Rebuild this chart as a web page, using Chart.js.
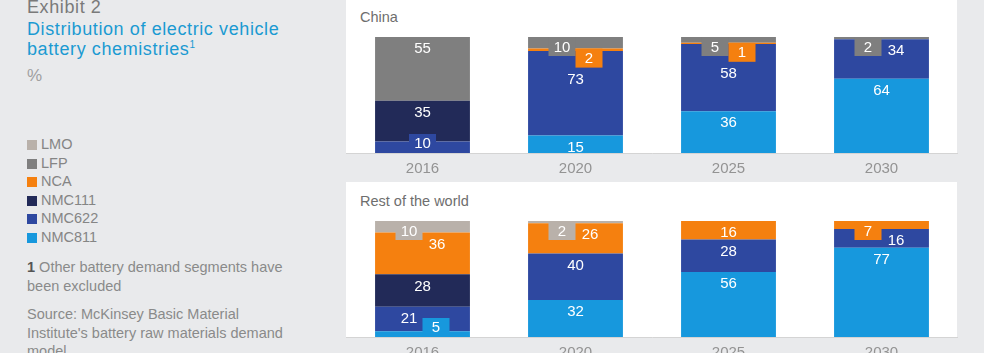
<!DOCTYPE html>
<html>
<head>
<meta charset="utf-8">
<script src="https://cdn.jsdelivr.net/npm/chart.js"></script>
<style>
  html, body { margin: 0; padding: 0; }
  body {
    width: 984px; height: 353px; overflow: hidden; position: relative;
    background: #e9eaec; font-family: "Liberation Sans", Arial, sans-serif;
  }
  .abs { position: absolute; white-space: nowrap; }
  .title { left: 27px; font-size: 18px; line-height: 20px; letter-spacing: 0.6px; }
  .legend { left: 27px; top: 135px; font-size: 14.5px; line-height: 18.6px; color: #858585; }
  .legend div { height: 18.6px; }
  .legend span { display: inline-block; width: 10px; height: 10px; margin-right: 4px; vertical-align: -1px; }
  .note { left: 27px; font-size: 14.5px; line-height: 18.7px; color: #8a8a8a; }
  .panel { position: absolute; left: 346px; width: 611px; background: #fff; }
  .ptitle { left: 360px; font-size: 14.5px; color: #6e6e6e; }
  canvas { position: absolute; }
</style>
</head>
<body>
  <div class="abs title" style="top:-3px;color:#7a7a7a;">Exhibit 2</div>
  <div class="abs title" style="top:19px;color:#1b9ad2;">Distribution of electric vehicle<br>battery chemistries<sup style="font-size:10px;vertical-align:7px;line-height:0;">1</sup></div>
  <div class="abs" style="left:27px;top:66px;font-size:17px;line-height:20px;color:#a0a0a0;">%</div>

  <div class="abs legend" id="leyenda"></div>

  <div class="abs note" style="top:258px;"><b style="color:#555;font-weight:bold;">1</b> Other battery demand segments have<br>been excluded</div>
  <div class="abs note" style="top:305px;">Source: McKinsey Basic Material<br>Institute's battery raw materials demand<br>model</div>

  <div class="panel" style="top:0;height:153px;"></div>
  <div class="panel" style="top:182px;height:155px;"></div>
  <div class="abs ptitle" style="top:9px;">China</div>
  <div class="abs ptitle" style="top:193px;">Rest of the world</div>

  <canvas id="graficaChina" width="613" height="180" style="left:345px;top:0;"></canvas>
  <canvas id="graficaResto" width="613" height="182" style="left:345px;top:182px;"></canvas>

<script>
// Years and chemistries
const years = ['2016', '2020', '2025', '2030'];
const chemistries = ['LMO', 'LFP', 'NCA', 'NMC111', 'NMC622', 'NMC811'];

// China shares, %
const chinaLMO = [0, 0, 0, 0];
const chinaLFP = [55, 10, 5, 2];
const chinaNCA = [0, 2, 1, 0];
const chinaNMC111 = [35, 0, 0, 0];
const chinaNMC622 = [10, 73, 58, 34];
const chinaNMC811 = [0, 15, 36, 64];

// Rest of the world shares, %
const restoLMO = [10, 2, 0, 0];
const restoLFP = [0, 0, 0, 0];
const restoNCA = [36, 26, 16, 7];
const restoNMC111 = [28, 0, 0, 0];
const restoNMC622 = [21, 40, 28, 16];
const restoNMC811 = [5, 32, 56, 77];

const colores = {
    LMO: '#b9b1aa',
    LFP: '#7f7f7f',
    NCA: '#f5800f',
    NMC111: '#222a58',
    NMC622: '#2e48a0',
    NMC811: '#1798dd'
};

// Legend on the left
const leyenda = document.getElementById('leyenda');
chemistries.forEach(c => {
    const fila = document.createElement('div');
    fila.innerHTML = `<span style="background:${colores[c]}"></span>${c}`;
    leyenda.appendChild(fila);
});

// Segment labels: small shares get a coloured tab like in the original
const BOX_W = 27, BOX_H = 19;
const etiquetasPlugin = {
    id: 'etiquetas',
    afterDatasetsDraw(chart) {
        const ctx = chart.ctx;
        ctx.save();
        ctx.font = '15px "Liberation Sans", Arial, sans-serif';
        ctx.textAlign = 'center';
        ctx.textBaseline = 'middle';

        years.forEach((y, i) => {
            // segments from top to bottom
            const segs = [];
            for (let d = chart.data.datasets.length - 1; d >= 0; d--) {
                const ds = chart.data.datasets[d];
                const v = ds.data[i];
                if (!v) continue;
                const el = chart.getDatasetMeta(d).data[i];
                segs.push({ value: v, top: el.y, bottom: el.base, cx: el.x, color: ds.backgroundColor });
            }
            const small = s => s.value <= 10;
            const items = [];
            let k = 0;
            let floor = -Infinity;

            const topSmall = [];
            while (k < segs.length - 1 && small(segs[k])) { topSmall.push(segs[k]); k++; }

            if (topSmall.length >= 2) {
                topSmall.forEach((s, j) => {
                    const bx = j === 0 ? s.cx - BOX_W : s.cx;
                    items.push({ text: s.value, x: bx + BOX_W / 2, y: s.top + BOX_H / 2 + 1, box: [bx, s.top, s.color] });
                    floor = Math.max(floor, s.top + BOX_H);
                });
            } else if (topSmall.length === 1) {
                const s = topSmall[0];
                items.push({ text: s.value, x: s.cx - BOX_W / 2, y: s.top + BOX_H / 2 + 1, box: [s.cx - BOX_W, s.top, s.color] });
                const n = segs[k];
                items.push({ text: n.value, x: n.cx + BOX_W / 2 + 1, y: n.top + 12 });
                k++;
            }

            for (; k < segs.length; k++) {
                const s = segs[k];
                if (k === segs.length - 1 && small(s) && k > 0) {
                    const boxTop = s.bottom - BOX_H;
                    const prev = items[items.length - 1];
                    let bx = s.cx - BOX_W / 2;
                    if (prev && prev.y + 8 > boxTop - 1) {
                        prev.x = s.cx - BOX_W / 2;
                        bx = s.cx;
                    }
                    items.push({ text: s.value, x: bx + BOX_W / 2, y: boxTop + BOX_H / 2, box: [bx, boxTop, s.color] });
                } else {
                    items.push({ text: s.value, x: s.cx, y: Math.max(s.top + 12, floor + 12) });
                }
            }

            items.forEach(it => {
                if (it.box) {
                    ctx.fillStyle = it.box[2];
                    ctx.fillRect(it.box[0], it.box[1], BOX_W, BOX_H);
                }
            });
            items.forEach(it => {
                ctx.fillStyle = '#ffffff';
                ctx.fillText(String(it.text), it.x, it.y);
            });
        });
        ctx.restore();
    }
};

// Builds one stacked bar chart
function crearGrafica(id, series, paddingTop) {
    return new Chart(document.getElementById(id), {
        type: 'bar',
        data: {
            labels: years,
            datasets: chemistries.slice().reverse().map(c => ({
                label: c,
                data: series[c],
                backgroundColor: colores[c],
                borderWidth: 0,
                categoryPercentage: 1,
                barPercentage: 0.62
            }))
        },
        options: {
            responsive: false,
            animation: false,
            devicePixelRatio: 1,
            layout: { padding: { top: paddingTop, left: 1, right: 0, bottom: 0 } },
            plugins: { legend: { display: false }, tooltip: { enabled: false } },
            scales: {
                x: {
                    stacked: true,
                    grid: { display: false, drawTicks: false },
                    border: { display: true, color: '#d4d4d4', width: 1 },
                    ticks: { color: '#939393', padding: 7, font: { size: 15, family: '"Liberation Sans", Arial, sans-serif' } },
                    afterFit: axis => { axis.height = 27; }
                },
                y: { stacked: true, display: false, min: 0, max: 100 }
            }
        },
        plugins: [etiquetasPlugin]
    });
}

crearGrafica('graficaChina', {
    LMO: chinaLMO, LFP: chinaLFP, NCA: chinaNCA,
    NMC111: chinaNMC111, NMC622: chinaNMC622, NMC811: chinaNMC811
}, 37);

crearGrafica('graficaResto', {
    LMO: restoLMO, LFP: restoLFP, NCA: restoNCA,
    NMC111: restoNMC111, NMC622: restoNMC622, NMC811: restoNMC811
}, 39);
</script>
</body>
</html>
